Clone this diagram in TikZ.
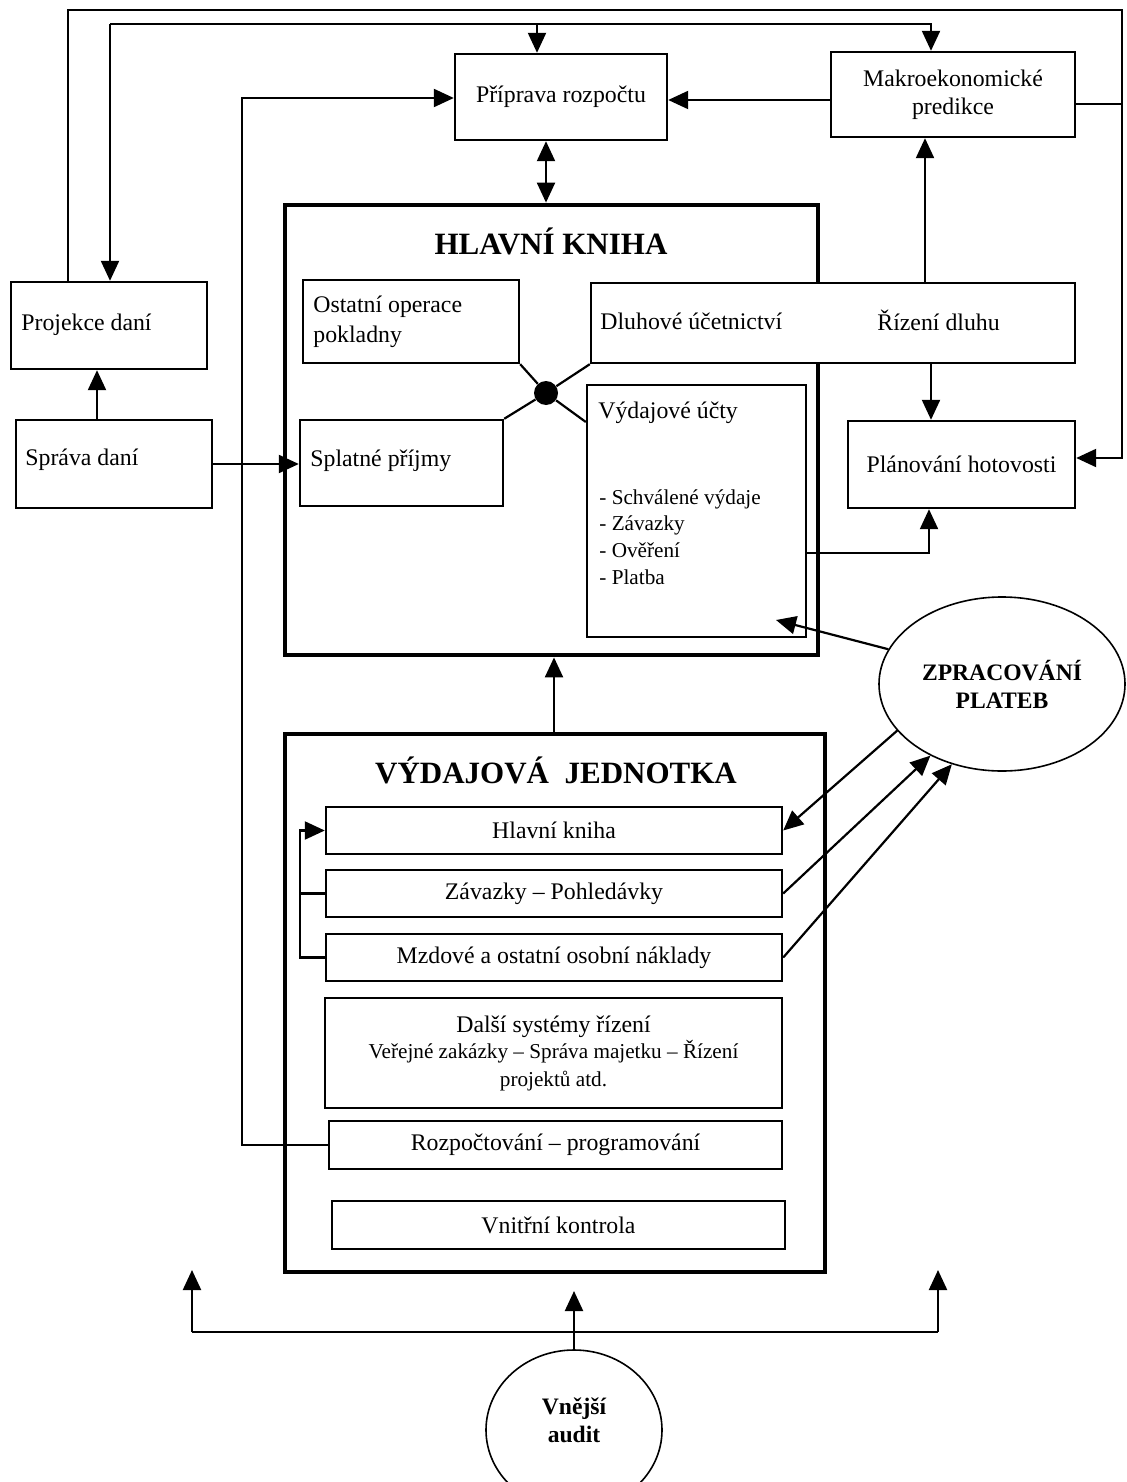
\documentclass[tikz,border=0pt]{standalone}
\usepackage{fontspec}
\setmainfont{Liberation Serif}
\usetikzlibrary{arrows.meta,shapes.geometric,calc}
\newcommand\regf{\fontsize{11.9pt}{14pt}\selectfont}
\newcommand\smallf{\fontsize{10.6pt}{13.3pt}\selectfont}
\newcommand\titlef{\fontsize{15.5pt}{18pt}\selectfont\bfseries}
\newcommand\elf{\fontsize{11.8pt}{14pt}\selectfont\bfseries}
\begin{document}
\begin{tikzpicture}[x=0.5pt,y=-0.5pt,
  box/.style={draw, line width=1.2pt, fill=white, inner sep=0pt, font=\regf, align=center},
  bigbox/.style={draw, line width=2.4pt, inner sep=0pt},
  lbl/.style={inner sep=0pt, font=\regf, align=left},
  conn/.style={line width=1.1pt},
  arr/.style={conn, -{Triangle[length=10pt,width=9pt]}},
  dbl/.style={conn, {Triangle[length=10pt,width=9pt]}-{Triangle[length=10pt,width=9pt]}},
  oval/.style={draw, ellipse, line width=0.8pt, fill=white, inner sep=0pt, font=\elf, align=center},
]
\useasboundingbox (0,0) rectangle (1126,1482);
\clip (0,0) rectangle (1126,1482);
\fill[white] (0,0) rectangle (1126,1482);

% big frames
\node[bigbox, minimum width=266.5pt, minimum height=225pt] (hk) at (551.5,430) {};
\node[bigbox, minimum width=270pt, minimum height=269pt] (vj) at (555,1003) {};
\node[inner sep=0pt, font=\titlef] (hkt) at (551,241) {HLAVNÍ KNIHA};
\node[inner sep=0pt, font=\titlef] (vjt) at (556,770) {VÝDAJOVÁ\hspace{0.5em}JEDNOTKA};

% top boxes
\node[box, minimum width=106pt, minimum height=43pt] (prip) at (561,97) {Příprava rozpočtu};
\node[box, minimum width=122pt, minimum height=42.5pt] (makro) at (953,94.5) {Makroekonomické\\predikce};
\node[box, minimum width=98pt, minimum height=43.5pt] (projekce) at (109,325.5) {};
\node[lbl, anchor=west] (tprojekce) at (21,325) {Projekce daní};
\node[box, minimum width=98pt, minimum height=44pt] (sprava) at (114,464) {};
\node[lbl, anchor=west] (tsprava) at (25,460) {Správa daní};

% inside Hlavni kniha
\node[box, minimum width=108pt, minimum height=41.5pt] (ostatni) at (411,321.5) {};
\node[lbl, anchor=west] (tostatni) at (313,322) {Ostatní operace\\[1pt]pokladny};
\node[box, minimum width=242pt, minimum height=40pt] (dluh) at (833,323) {};
\node[lbl, anchor=west] (tdluh) at (600,321) {Dluhové účetnictví};
\node[lbl, anchor=west] (triz) at (877,320) {Řízení dluhu};
\node[box, minimum width=101.5pt, minimum height=43pt] (splatne) at (401.5,463) {};
\node[lbl, anchor=west] (tsplatne) at (310,461) {Splatné příjmy};
\node[box, minimum width=109.5pt, minimum height=126pt] (vydu) at (696.5,511) {};
\node[lbl, anchor=west] (tvydu) at (598,413) {Výdajové účty};
\node[lbl, anchor=west, font=\smallf] (tlist) at (599,537) {- Schválené výdaje\\- Závazky\\- Ověření\\- Platba};
\node[box, minimum width=113.5pt, minimum height=43.5pt] (planovani) at (961.5,464.5) {Plánování hotovosti};
\node[circle, fill=black, minimum size=12pt, inner sep=0pt] (junc) at (546,393) {};

% ellipses
\node[oval, minimum width=123pt, minimum height=87pt] (zprac) at (1002,684) {ZPRACOVÁNÍ\\PLATEB};
\node[oval, minimum width=88pt, minimum height=80pt] (audit) at (574,1430) {};
\node[inner sep=0pt, font=\elf, align=center] (taudit) at (574,1420) {Vnější\\audit};

% rows in vydajova jednotka
\node[box, minimum width=228pt, minimum height=23.5pt] (r1) at (554,830.5) {Hlavní kniha};
\node[box, minimum width=228pt, minimum height=23.5pt] (r2) at (554,893.5) {Závazky – Pohledávky};
\node[box, minimum width=228pt, minimum height=23.5pt] (r3) at (554,957.5) {Mzdové a ostatní osobní náklady};
\node[box, minimum width=228.5pt, minimum height=55pt] (r4) at (553.5,1053) {Další systémy řízení\\[-1pt]\smallf Veřejné zakázky – Správa majetku – Řízení\\\smallf projektů atd.};
\node[box, minimum width=226.5pt, minimum height=24pt] (r5) at (555.5,1145) {Rozpočtování – programování};
\node[box, minimum width=226.5pt, minimum height=24pt] (r6) at (558.5,1225) {Vnitřní kontrola};

% helper coordinates
\coordinate (tl) at (68,10);
\coordinate (tr) at (1122,10);
\coordinate (kh) at (1122,458);
\coordinate (mk) at (1075,104);
\coordinate (l2) at (110,24);
\coordinate (r2c) at (931,24);
\coordinate (p2) at (537,24);
\coordinate (pm) at (700,100);
\coordinate (lv) at (242,98);
\coordinate (bk) at (300,830);
\coordinate (km) at (925,200);
\coordinate (kp) at (931,400);
\coordinate (kv) at (929,553);
\coordinate (vtip) at (776,620);
\coordinate (ka) at (554,700);
\coordinate (ks) at (97,400);
\coordinate (jv) at (587,422);
\coordinate (bl) at (192,1332);
\coordinate (br) at (938,1332);
\coordinate (blt) at (192,1270);
\coordinate (brt) at (938,1270);
\coordinate (atip) at (574,1291);

% connectors
\draw[arr] (projekce.north -| tl) -- (tl) -- (tr) -- (kh) -- (kh -| planovani.east);
\draw[conn] (makro.east |- mk) -- (mk -| tr);
\draw[arr] (l2) -- (l2 |- projekce.north);
\draw[arr] (l2) -- (r2c) -- (r2c |- makro.north);
\draw[arr] (p2) -- (p2 |- prip.north);
\draw[arr] (makro.west |- pm) -- (prip.east |- pm);
\draw[arr] (r5.west) -- (r5.west -| lv) -- (lv) -- (lv -| prip.west);
\draw[dbl] (prip.south -| junc) -- (hk.north -| junc);
\draw[arr] (dluh.north -| km) -- (makro.south -| km);
\draw[arr] (dluh.south -| kp) -- (planovani.north -| kp);
\draw[arr] (vydu.east |- kv) -- (kv) -- (kv |- planovani.south);
\draw[arr] (zprac.163.5) -- (vtip);
\draw[arr] (zprac.204.5) -- (r1.east);
\draw[arr] (r2.east) -- (zprac.225);
\draw[arr] (r3.east) -- (zprac.238);
\draw[arr] (vj.north -| ka) -- (hk.south -| ka);
\draw[arr] (sprava.east) -- (sprava.east -| splatne.west);
\draw[arr] (sprava.north -| ks) -- (projekce.south -| ks);
\draw[arr] (r3.west) -- (r3.west -| bk) -- (r1.west -| bk) -- (r1.west);
\draw[conn] (r2.west) -- (r2.west -| bk);
\draw[conn] (junc) -- (ostatni.south east);
\draw[conn] (junc) -- (dluh.south west);
\draw[conn] (junc) -- (splatne.north east);
\draw[conn] (junc) -- (jv -| vydu.west);
\draw[conn] (bl) -- (br);
\draw[arr] (bl) -- (blt);
\draw[arr] (br) -- (brt);
\draw[arr] (audit.north) -- (atip);
\end{tikzpicture}
\end{document}
